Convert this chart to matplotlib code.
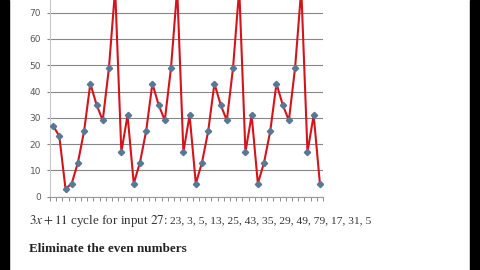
import matplotlib
matplotlib.use("Agg")
import matplotlib.pyplot as plt
from matplotlib.patches import Rectangle

# sequence plotted in the chart (3x+11 starting from 27)
values = [27, 23, 3,
          5, 13, 25, 43, 35, 29, 49, 79, 17, 31,
          5, 13, 25, 43, 35, 29, 49, 79, 17, 31,
          5, 13, 25, 43, 35, 29, 49, 79, 17, 31,
          5, 13, 25, 43, 35, 29, 49, 79, 17, 31,
          5]
y_ticks = [0, 10, 20, 30, 40, 50, 60, 70]

caption_head = r"$3x+11$ cycle for input $27$:"
caption_nums = "23, 3, 5, 13, 25, 43, 35, 29, 49, 79, 17, 31, 5"
heading = "Eliminate the even numbers"

plt.rcParams['mathtext.fontset'] = 'stix'

W, H = 480, 270
fig = plt.figure(figsize=(4.8, 2.7), dpi=100)
fig.patch.set_facecolor('white')

# black borders of the screenshot
fig.add_artist(Rectangle((0, 0), 9 / W, 1, transform=fig.transFigure, color='black', zorder=0))
fig.add_artist(Rectangle((470 / W, 0), 10 / W, 1, transform=fig.transFigure, color='black', zorder=0))

ax = fig.add_axes([50 / W, 73.3 / H, 273 / W, 196.7 / H])
x = list(range(1, len(values) + 1))
ax.plot(x, values, color='#d4141c', lw=1.5, zorder=3,
        marker='D', markersize=3.2, markerfacecolor='#587896', markeredgecolor='#587896')

ax.set_xlim(0.5, len(values) + 0.5)
ax.set_ylim(0, 74.8)
ax.set_yticks(y_ticks)
ax.set_yticklabels([str(v) for v in y_ticks], fontsize=6.5, color='#595959',
                   family='DejaVu Sans')
ax.set_xticks([i + 0.5 for i in range(0, len(values) + 1)])
ax.set_xticklabels([])
ax.tick_params(axis='x', direction='out', length=3, width=0.7, color='#8c8c8c')
ax.tick_params(axis='y', direction='out', length=2.5, width=0.8, color='#868686', pad=4)
ax.grid(axis='y', color='#868686', lw=0.8, zorder=1)
ax.set_axisbelow(True)
for s in ['top', 'right']:
    ax.spines[s].set_visible(False)
ax.spines['left'].set_color('#c8c8c8')
ax.spines['bottom'].set_color('#9a9a9a')
ax.spines['left'].set_linewidth(0.8)
ax.spines['bottom'].set_linewidth(0.8)


def fit_text(t, target_px):
    # scale font size so the text spans the width seen in the screenshot
    r = fig.canvas.get_renderer()
    w = t.get_window_extent(r).width
    t.set_fontsize(t.get_fontsize() * target_px / w)
    return t.get_window_extent(r)


# page text below the chart
fig.canvas.draw()
t1 = fig.text(29 / W, 1 - 221 / H, caption_head, fontsize=10, color='#333333',
              family='Liberation Serif', va='center', ha='left')
fit_text(t1, 139)
t2 = fig.text(170 / W, 1 - 221 / H, caption_nums, fontsize=8, color='#333333',
              family='Liberation Serif', va='center', ha='left')
fit_text(t2, 198)
t3 = fig.text(29 / W, 1 - 249 / H, heading, fontsize=9, color='#222222',
              family='Liberation Serif', weight='bold', va='center', ha='left')
fit_text(t3, 157)

fig.savefig('out.png', dpi=100)
